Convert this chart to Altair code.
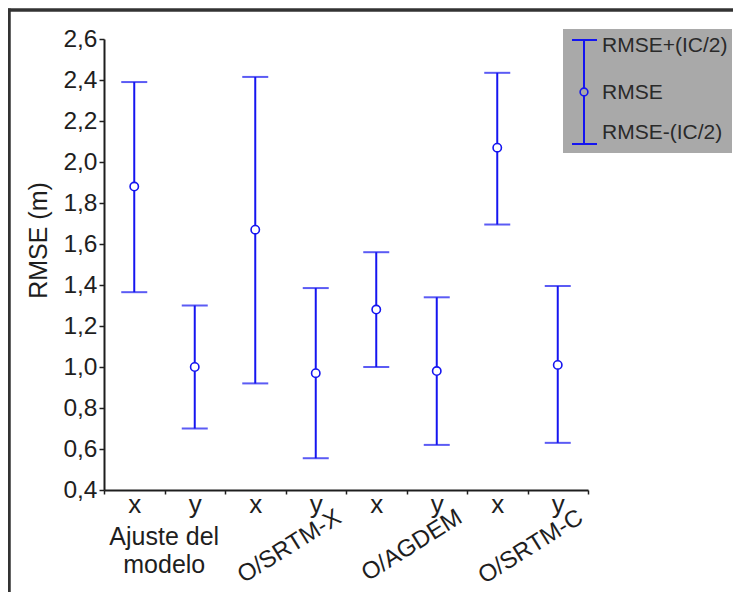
import altair as alt
import pandas as pd

# ---- data ----
groups = ["Ajuste del modelo", "O/SRTM-X", "O/AGDEM", "O/SRTM-C"]
components = ["x", "y", "x", "y", "x", "y", "x", "y"]
group_of = [0, 0, 1, 1, 2, 2, 3, 3]
rmse = [1.88, 1.00, 1.67, 0.97, 1.28, 0.98, 2.07, 1.01]
upper = [2.39, 1.30, 2.415, 1.385, 1.56, 1.34, 2.435, 1.395]
lower = [1.365, 0.70, 0.92, 0.555, 1.00, 0.62, 1.695, 0.63]
y_ticks = [0.4, 0.6, 0.8, 1.0, 1.2, 1.4, 1.6, 1.8, 2.0, 2.2, 2.4, 2.6]
legend_labels = ["RMSE+(IC/2)", "RMSE", "RMSE-(IC/2)"]

cats = [f"{i}{c}" for i, c in enumerate(components)]
df = pd.DataFrame({
    "cat": cats,
    "comp": components,
    "group": [groups[g] for g in group_of],
    "rmse": rmse,
    "upper": upper,
    "lower": lower,
})

BLUE = "#1515f0"
DARK = "#1e1e1e"
FONT = "Liberation Sans"

W, H = 484, 451

xenc = alt.X(
    "cat:N", sort=cats,
    scale=alt.Scale(paddingInner=0, paddingOuter=0),
    axis=alt.Axis(
        title=None, labelExpr="substring(datum.label, 1)", labelAngle=0,
        tickBand="extent", labelFontSize=26, labelColor=DARK, labelFont=FONT,
        labelBaseline="alphabetic", labelPadding=18, tickSize=4,
        tickColor=DARK, tickWidth=1.5, domainColor=DARK, domainWidth=2,
    ),
)
yscale = alt.Scale(domain=[0.4, 2.6], nice=False, zero=False)
yaxis = alt.Axis(
    values=y_ticks, labelExpr="replace(format(datum.value, '.1f'), '.', ',')",
    title="RMSE (m)", titleFontSize=25, titleFontWeight="normal", titleColor=DARK,
    titleFont=FONT, titleAngle=270, titleX=-58, titleY=201, titleAlign="center",
    titleBaseline="alphabetic",
    labelFontSize=24.5, labelColor=DARK, labelFont=FONT, labelPadding=2,
    tickSize=5, tickColor=DARK, tickWidth=1.5, domainColor=DARK, domainWidth=2,
    grid=False,
)

base = alt.Chart(df)

rules = base.mark_rule(color=BLUE, strokeWidth=2).encode(
    x=xenc, y=alt.Y("lower:Q", scale=yscale, axis=yaxis), y2="upper:Q"
)
cap_hi = base.mark_tick(color=BLUE, orient="horizontal", size=26, thickness=2).encode(
    x="cat:N", y="upper:Q"
)
cap_lo = base.mark_tick(color=BLUE, orient="horizontal", size=26, thickness=2).encode(
    x="cat:N", y="lower:Q"
)
pts = base.mark_point(shape="circle", filled=True, fill="white", stroke=BLUE,
                      strokeWidth=1.6, size=70, opacity=1).encode(
    x="cat:N", y="rmse:Q"
)

# group labels
g0 = pd.DataFrame({"cat": [cats[0]], "label": [groups[0].replace("Ajuste del ", "Ajuste del\n")]})
glab0 = alt.Chart(g0).mark_text(
    fontSize=25, font=FONT, color=DARK, align="center", baseline="alphabetic",
    lineBreak="\n", lineHeight=28, dx=30
).encode(x="cat:N", y=alt.value(506), text="label:N")

g1 = pd.DataFrame({"cat": [cats[3], cats[5], cats[7]], "label": groups[1:]})
glab1 = alt.Chart(g1).mark_text(
    fontSize=24, font=FONT, color=DARK, align="right", baseline="top",
    angle=328, dx=20
).encode(x="cat:N", y=alt.value(477), text="label:N")

one = pd.DataFrame({"a": [0]})
# outer frame (top and left edges; the rest lies outside the picture)
frame_top = alt.Chart(one).mark_rule(color="#333333", strokeWidth=3.5).encode(
    x=alt.value(-97), x2=alt.value(629), y=alt.datum(2.7415)
)
frame_left = alt.Chart(one).mark_rule(color="#333333", strokeWidth=3.5).encode(
    x=alt.value(-95), y=alt.value(-30.5), y2=alt.value(553)
)
# legend
leg_box = alt.Chart(one).mark_rect(fill="#a9a9a9").encode(
    x=alt.value(459), x2=alt.value(628), y=alt.value(-10), y2=alt.value(114)
)
leg_line = alt.Chart(one).mark_rule(color=BLUE, strokeWidth=2).encode(
    x=alt.value(480), y=alt.value(1), y2=alt.value(105)
)
leg_cap1 = alt.Chart(one).mark_rule(color=BLUE, strokeWidth=2).encode(
    x=alt.value(468), x2=alt.value(493), y=alt.value(1)
)
leg_cap2 = alt.Chart(one).mark_rule(color=BLUE, strokeWidth=2).encode(
    x=alt.value(468), x2=alt.value(493), y=alt.value(105)
)
leg_pt = alt.Chart(one).mark_point(shape="circle", filled=True, fill="#a9a9a9", stroke=BLUE,
                                   strokeWidth=1.6, size=60, opacity=1).encode(
    x=alt.value(480), y=alt.value(53)
)
leg_df = pd.DataFrame({"label": legend_labels, "pos": [12.5, 59.8, 99.5]})
leg_txt = alt.Chart(leg_df).mark_text(
    fontSize=21, font=FONT, color="#2a2a2a", align="left", baseline="alphabetic"
).encode(x=alt.value(498), y=alt.Y("pos:Q", scale=None), text="label:N")

chart = alt.layer(
    rules, cap_hi, cap_lo, pts, glab0, glab1,
    leg_box, leg_line, leg_cap1, leg_cap2, leg_pt, leg_txt, frame_left, frame_top
).properties(
    width=W, height=H,
    autosize=alt.AutoSizeParams(type="none"),
    padding={"left": 96, "top": 31, "right": 145, "bottom": 103},
    background="white",
).configure_view(stroke=None)

chart.save("out.html", embed_options={"renderer": "svg", "actions": False})
